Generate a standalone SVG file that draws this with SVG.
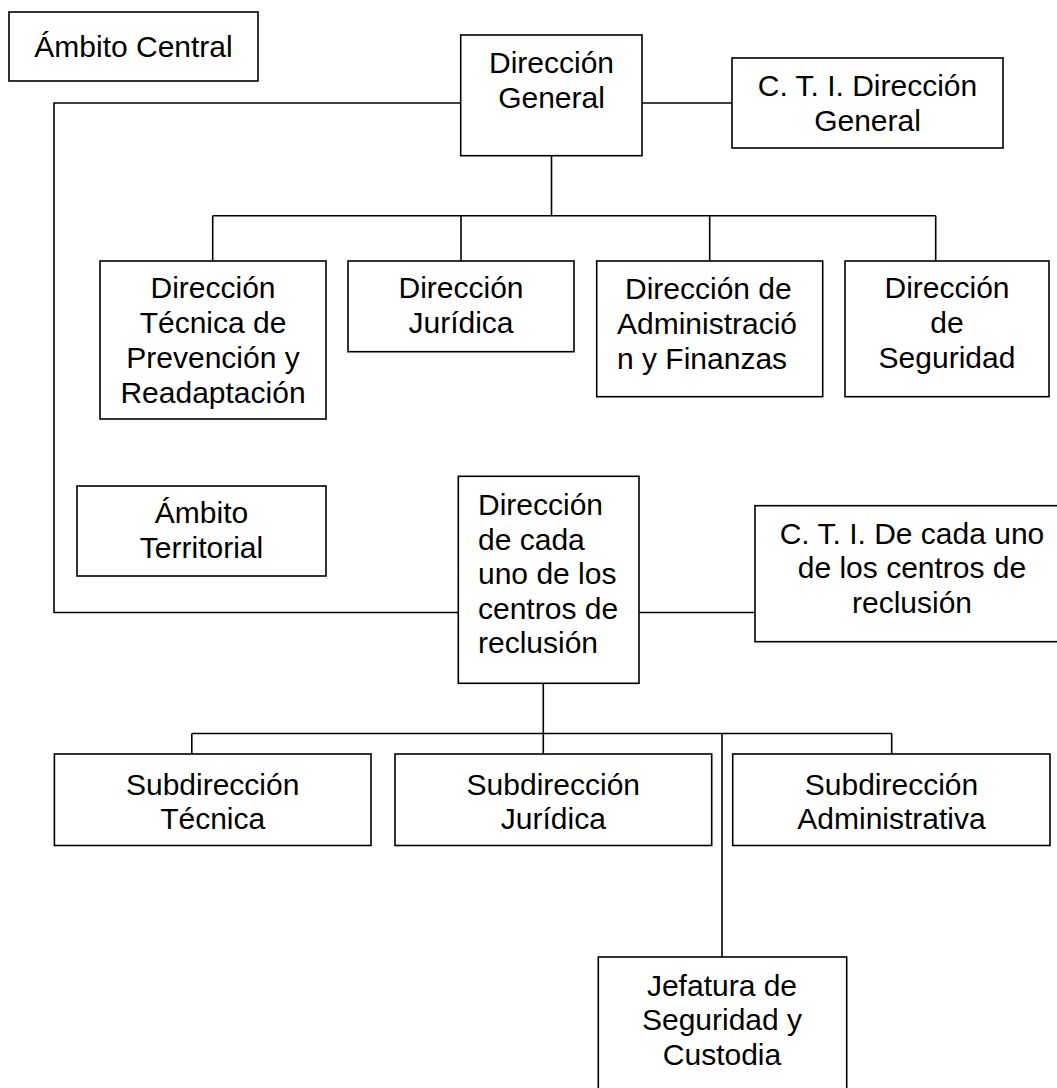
<svg xmlns="http://www.w3.org/2000/svg" width="1057" height="1088" viewBox="0 0 1057 1088">
<style>
.box{fill:#fff;stroke:#000;stroke-width:1.6}
.ln{fill:none;stroke:#000;stroke-width:1.6}
text{font-family:"Liberation Sans",Arial,sans-serif;font-size:30px;fill:#000}
.c{text-anchor:middle}
</style>
<rect width="1057" height="1088" fill="#fff"/>
<g id="connectors">
<polyline class="ln" points="460,103 54,103 54,612.5 458,612.5"/>
<line class="ln" x1="642" y1="103" x2="732" y2="103"/>
<line class="ln" x1="551.5" y1="148" x2="551.5" y2="215.7"/>
<line class="ln" x1="212.7" y1="215.7" x2="935.7" y2="215.7"/>
<line class="ln" x1="212.7" y1="215.7" x2="212.7" y2="261"/>
<line class="ln" x1="461" y1="215.7" x2="461" y2="261"/>
<line class="ln" x1="709.7" y1="215.7" x2="709.7" y2="261"/>
<line class="ln" x1="935.7" y1="215.7" x2="935.7" y2="261"/>
<line class="ln" x1="639" y1="612.5" x2="755" y2="612.5"/>
<line class="ln" x1="543.3" y1="683.3" x2="543.3" y2="733.5"/>
<line class="ln" x1="191.8" y1="733.5" x2="891.7" y2="733.5"/>
<line class="ln" x1="191.8" y1="733.5" x2="191.8" y2="754"/>
<line class="ln" x1="543.3" y1="733.5" x2="543.3" y2="754"/>
<line class="ln" x1="891.7" y1="733.5" x2="891.7" y2="754"/>
<line class="ln" x1="722" y1="733.5" x2="722" y2="957"/>
</g>
<g id="ambito-central">
<rect class="box" x="9" y="12" width="249" height="69"/>
<text class="c" x="133.5" y="57.3">Ámbito Central</text>
</g>
<g id="direccion-general">
<rect class="box" x="460.7" y="35" width="181.3" height="120.7"/>
<text class="c" x="551.5" y="73.3">Dirección</text>
<text class="c" x="551.5" y="108.3">General</text>
</g>
<g id="cti-direccion-general">
<rect class="box" x="732" y="58" width="271" height="90"/>
<text class="c" x="867.5" y="95.7">C. T. I. Dirección</text>
<text class="c" x="867.5" y="131">General</text>
</g>
<g id="dir-tecnica">
<rect class="box" x="100" y="261" width="226" height="158"/>
<text class="c" x="213" y="298.3">Dirección</text>
<text class="c" x="213" y="333.3">Técnica de</text>
<text class="c" x="213" y="368.3">Prevención y</text>
<text class="c" x="213" y="403.3">Readaptación</text>
</g>
<g id="dir-juridica">
<rect class="box" x="348" y="261" width="226" height="90.7"/>
<text class="c" x="461" y="298.3">Dirección</text>
<text class="c" x="461" y="333.3">Jurídica</text>
</g>
<g id="dir-administracion">
<rect class="box" x="596.7" y="261" width="226" height="135.7"/>
<text x="625" y="299">Dirección de</text>
<text x="617" y="334">Administració</text>
<text x="617" y="368.5">n y Finanzas</text>
</g>
<g id="dir-seguridad">
<rect class="box" x="845" y="261" width="204" height="135.7"/>
<text class="c" x="947" y="298.3">Dirección</text>
<text class="c" x="947" y="333.3">de</text>
<text class="c" x="947" y="368.3">Seguridad</text>
</g>
<g id="ambito-territorial">
<rect class="box" x="77" y="486" width="249" height="90"/>
<text class="c" x="201.5" y="523.3">Ámbito</text>
<text class="c" x="201.5" y="558.3">Territorial</text>
</g>
<g id="dir-centros">
<rect class="box" x="458.3" y="476.3" width="180.7" height="207"/>
<text x="478" y="515">Dirección</text>
<text x="478" y="549.5">de cada</text>
<text x="478" y="584">uno de los</text>
<text x="478" y="618.5">centros de</text>
<text x="478" y="653">reclusión</text>
</g>
<g id="cti-centros">
<rect class="box" x="755" y="505.7" width="314" height="136"/>
<text class="c" x="912" y="543.5">C. T. I. De cada uno</text>
<text class="c" x="912" y="578">de los centros de</text>
<text class="c" x="912" y="612.5">reclusión</text>
</g>
<g id="sub-tecnica">
<rect class="box" x="54.4" y="754" width="316.6" height="91.5"/>
<text class="c" x="212.7" y="794.5">Subdirección</text>
<text class="c" x="212.7" y="829">Técnica</text>
</g>
<g id="sub-juridica">
<rect class="box" x="395" y="754" width="316.7" height="91.5"/>
<text class="c" x="553.3" y="794.5">Subdirección</text>
<text class="c" x="553.3" y="829">Jurídica</text>
</g>
<g id="sub-administrativa">
<rect class="box" x="732.7" y="754" width="317.3" height="91.5"/>
<text class="c" x="891.5" y="794.5">Subdirección</text>
<text class="c" x="891.5" y="829">Administrativa</text>
</g>
<g id="jefatura-seguridad">
<rect class="box" x="598.3" y="957" width="248.4" height="140"/>
<text class="c" x="722" y="995.5">Jefatura de</text>
<text class="c" x="722" y="1030">Seguridad y</text>
<text class="c" x="722" y="1064.5">Custodia</text>
</g>
</svg>
